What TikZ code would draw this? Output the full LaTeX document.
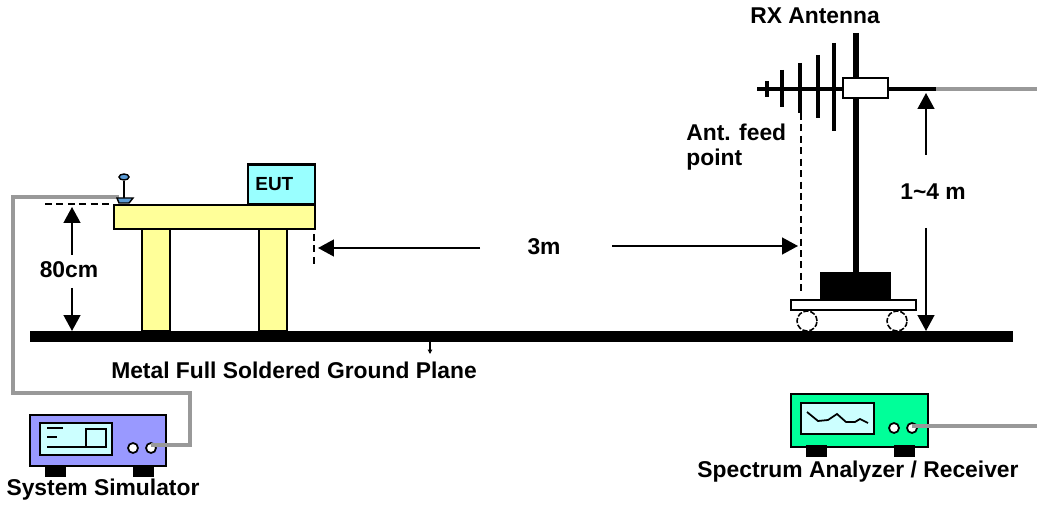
\documentclass[tikz,border=0pt]{standalone}
\usepackage{fontspec}
\setmainfont{Liberation Sans}
\usepackage{xcolor}
\usetikzlibrary{arrows.meta,positioning,shapes.geometric}
\definecolor{tableyellow}{HTML}{FFFF99}
\definecolor{eutcyan}{HTML}{99FFFF}
\definecolor{screencyan}{HTML}{CCFFFF}
\definecolor{simblue}{HTML}{9999FF}
\definecolor{specgreen}{HTML}{00FF99}
\definecolor{probeblue}{HTML}{5B9BD5}
\definecolor{cablegray}{HTML}{999999}
\tikzset{
	rect/.style n args={2}{shape=rectangle,draw=black,inner sep=0pt,line width=1.2pt,
		minimum width=#1*0.02cm,minimum height=#2*0.02cm},
	lab/.style={inner sep=0pt,font=\fontsize{13}{15}\selectfont\bfseries},
	dim/.style={line width=1pt,-{Triangle[width=9.5pt,length=9pt]}},
	dashline/.style={line width=0.9pt,dash pattern=on 4pt off 2.5pt},
	cable/.style={cablegray,line width=2.2pt},
	knob/.style={shape=circle,draw=black,fill=white,inner sep=0pt,line width=1pt,minimum width=0.2cm},
	wheel/.style={shape=circle,draw=black,fill=white,inner sep=0pt,line width=0.9pt,
		dash pattern=on 3pt off 1pt,minimum width=0.4cm}
}
\begin{document}
\begin{tikzpicture}[x=0.02cm,y=-0.02cm]
\useasboundingbox (0,0) rectangle (1037,506);
\node[rect={981}{9},fill=black] (ground) at (521.5,336.5) {};
%% table
\node[rect={28}{102},fill=tableyellow] (legA) at (156,280) {};
\node[rect={28}{102},fill=tableyellow] (legB) at (273,280) {};
\node[rect={201}{24},fill=tableyellow] (top) at (214.5,217) {};
\node[rect={67}{40},fill=eutcyan] (eut) at (281.5,184.5) {};
\node[lab,font=\fontsize{10.8}{13}\selectfont\bfseries,anchor=west] (eutLab) at (255,184) {EUT};
%% system simulator
\node[rect={136}{51},fill=simblue] (sim) at (98,440.5) {};
\node[rect={72}{32},fill=screencyan] (simScreen) at (76,439) {};
\node[rect={20}{18},fill=screencyan] (simBox) at (96,438) {};
\draw[line width=1pt] (47,428) -- (63,428) (47,437) -- (57,437) (47,447) -- (86,447);
\node[knob] (simKnobA) at (133,448) {};
\node[knob] (simKnobB) at (151,448) {};
\node[rect={19}{9},fill=black] (simFootA) at (55.5,471) {};
\node[rect={19}{9},fill=black] (simFootB) at (143.5,471) {};
\node[lab] (simLab) at (103,490) {System Simulator};
\coordinate (c1) at (13,197);
\coordinate (c2) at (13,393);
\coordinate (c3) at (190,393);
\coordinate (c4) at (190,445);
\coordinate (c5) at (119,197);
\draw[cable] (simKnobB.center |- c4) -- (c4) -- (c3) -- (c2) -- (c1) -- (c5);
%% probe
\node[shape=ellipse,draw=black,fill=probeblue,inner sep=0pt,minimum width=0.2cm,
	minimum height=0.12cm,line width=0.8pt] (probeTop) at (124,177) {};
\coordinate (probeFoot) at (124,199);
\draw[line width=1pt] (probeTop) -- (probeFoot);
\draw[fill=probeblue,line width=0.8pt] (117,198) -- (133,198) -- (129,203) -- (119,203) -- cycle;
%% 80cm
\node[lab] (lab80) at (69,270) {80cm};
\coordinate (h1) at (72,255);
\coordinate (h2) at (72,288);
\draw[dim] (h1) -- (72,207);
\draw[dim] (h2) -- (72,331);
\draw[dashline] (45,204) -- (110,204);
\draw[dashline] (314,234) -- (314,268);
%% 3m
\node[lab] (lab3m) at (544,247) {3m};
\coordinate (d1) at (480,248);
\coordinate (d2) at (612,246);
\draw[dim] (d1) -- (318,248);
\draw[dim] (d2) -- (798,246);
\draw[dashline] (801,113) -- (801,293);
%% antenna
\node[lab] (rxLab) at (815,16) {RX Antenna};
\node[lab,anchor=west] (feedLab) at (686,132) {Ant. feed};
\node[lab,anchor=west] (feedLabB) at (686,160) {point};
\coordinate (mastTop) at (856,33);
\coordinate (mastFoot) at (856,275);
\draw[line width=3.2pt] (mastTop) -- (mastFoot);
\coordinate (boomEnd) at (757,89);
\coordinate (boomFree) at (936,89);
\coordinate (rxEnd) at (1037,89);
\draw[line width=2.2pt] (boomEnd) -- (boomFree);
\draw[cable] (boomFree) -- (rxEnd);
\foreach \elemX/\elemA/\elemB in {767/81/97,782/70/107,800/63/113,818/55/118,834/43/131}
{
	\draw[line width=2.2pt] (\elemX,\elemA) -- (\elemX,\elemB);
};
\node[rect={45}{20},fill=white] (feedBox) at (865.5,88) {};
%% mast base
\node[rect={69}{27},fill=black] (block) at (855.5,286.5) {};
\node[wheel] (wheelA) at (807,321) {};
\node[wheel] (wheelB) at (897,321) {};
\node[rect={125}{10},fill=white] (cart) at (853.5,305) {};
%% 1~4 m
\node[lab] (lab14) at (933,192) {1\textasciitilde4 m};
\coordinate (m1) at (926,155);
\coordinate (m2) at (926,228);
\draw[dim] (m1) -- (926,93);
\draw[dim] (m2) -- (926,331);
%% ground label
\node[lab] (groundLab) at (294,370) {Metal Full Soldered Ground Plane};
\draw[line width=0.6pt,-{Triangle[width=2.5pt,length=2.5pt]}] (430,341) -- (430,354);
%% spectrum analyzer
\node[rect={137}{53},fill=specgreen] (spec) at (859.5,420.5) {};
\node[rect={73}{31},fill=screencyan] (specScreen) at (837.5,418.5) {};
\draw[line width=1pt] (807,412) -- (818,421) -- (828,420) -- (837,414) -- (846,422) -- (855,422) -- (860,419) -- (868,423);
\node[knob] (specKnobA) at (894,428) {};
\node[knob] (specKnobB) at (912,428) {};
\node[rect={19}{9},fill=black] (specFootA) at (816.5,451) {};
\node[rect={19}{9},fill=black] (specFootB) at (904.5,451) {};
\node[lab] (specLab) at (858,472) {Spectrum Analyzer / Receiver};
\coordinate (specEnd) at (1037,426);
\draw[cable] (specKnobB.center |- specEnd) -- (specEnd);
\end{tikzpicture}
\end{document}
